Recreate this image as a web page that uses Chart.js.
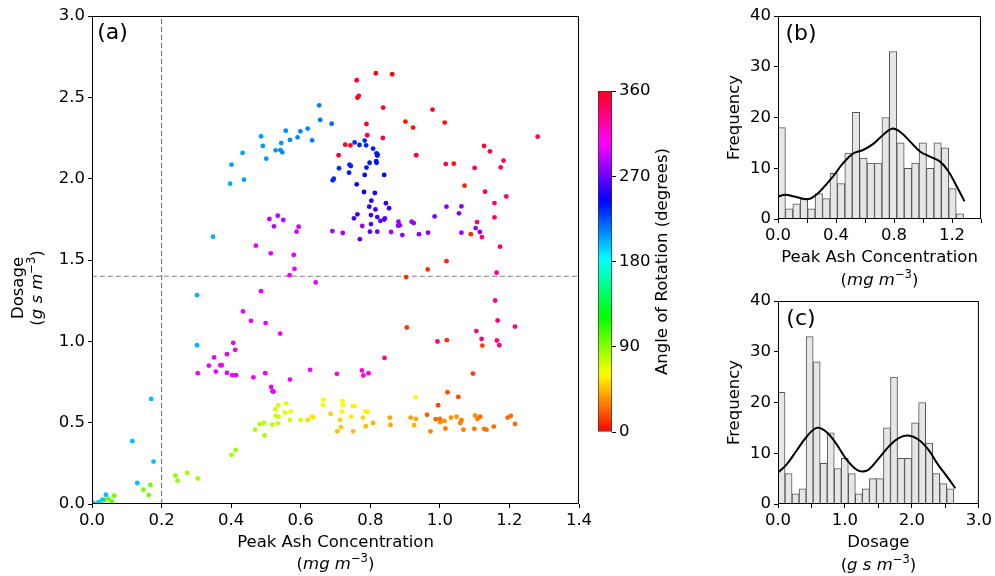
<!DOCTYPE html>
<html>
<head>
<meta charset="utf-8">
<script src="https://cdn.jsdelivr.net/npm/chart.js@4.4.1/dist/chart.umd.min.js"></script>
<style>
  body { margin: 0; background: #fff; }
  #wrap { position: relative; width: 995px; height: 576px; }
  #wrap canvas { position: absolute; left: 0; top: 0; }
</style>
</head>
<body>
<div id="wrap">
  <canvas id="scatterChart" width="995" height="576"></canvas>
  <canvas id="colorBar" width="995" height="576"></canvas>
  <canvas id="ashHist" width="995" height="576"></canvas>
  <canvas id="doseHist" width="995" height="576"></canvas>
</div>
<script>
// peak ash concentration (mg m-3), dosage (g s m-3) and wind rotation angle (deg) per run
var ashPeak = [
  0.761, 0.816, 0.863, 0.763, 0.767, 0.837, 0.979, 1.014, 0.789, 0.901, 0.923, 0.791, 0.836, 0.728, 0.743, 0.709,
  0.932, 1.017, 1.040, 1.127, 1.144, 1.281, 1.183, 1.175, 1.100, 1.071, 1.130, 1.191, 1.157, 1.157, 1.107, 1.089,
  1.121, 1.173, 1.019, 0.965, 0.903, 1.163, 1.019, 1.062, 1.055, 0.985, 1.103, 1.115, 1.062, 0.966, 0.940, 0.919,
  0.925, 0.881, 0.885, 0.880, 0.892, 0.860, 0.653, 0.656, 0.689, 0.620, 0.599, 0.557, 0.591, 0.569, 0.633, 0.486,
  0.491, 0.544, 0.528, 0.542, 0.547, 0.433, 0.501, 0.401, 0.397, 0.437, 0.348, 0.755, 0.769, 0.784, 0.788, 0.808,
  0.818, 0.821, 0.820, 0.817, 0.818, 0.798, 0.740, 0.744, 0.789, 0.710, 0.739, 0.784, 0.840, 0.695, 0.692, 0.761,
  0.782, 0.813, 0.803, 0.845, 0.854, 0.797, 0.815, 0.763, 0.802, 0.753, 0.820, 0.842, 0.840, 0.829, 0.802, 0.777,
  0.799, 0.820, 0.770, 0.510, 0.534, 0.550, 0.523, 0.594, 0.588, 0.691, 0.721, 0.471, 0.514, 0.580, 0.582, 0.568,
  0.643, 0.486, 0.302, 0.434, 0.457, 0.499, 0.541, 0.406, 0.412, 0.351, 0.388, 0.336, 0.369, 0.373, 0.356, 0.304,
  0.388, 0.403, 0.414, 0.464, 0.498, 0.515, 0.522, 0.519, 0.569, 0.627, 0.704, 0.776, 0.780, 0.795, 0.841, 0.993,
  1.105, 1.120, 1.159, 1.166, 1.164, 1.171, 1.216, 0.905, 1.020, 1.122, 1.095, 1.022, 1.053, 0.995, 0.930, 0.302,
  0.665, 0.664, 0.719, 0.721, 0.750, 0.755, 0.718, 0.786, 0.792, 0.745, 0.779, 0.713, 0.686, 0.632, 0.637, 0.620,
  0.600, 0.569, 0.572, 0.558, 0.535, 0.527, 0.555, 0.528, 0.536, 0.534, 0.518, 0.494, 0.482, 0.469, 0.496, 0.716,
  0.705, 0.751, 0.787, 0.808, 0.856, 0.858, 0.916, 0.931, 0.926, 0.963, 0.988, 1.000, 1.001, 1.013, 1.016, 0.973,
  1.032, 1.048, 1.059, 1.062, 1.068, 1.101, 1.108, 1.116, 1.099, 1.127, 1.134, 1.155, 1.195, 1.204, 1.216, 0.413,
  0.401, 0.240, 0.246, 0.274, 0.304, 0.168, 0.148, 0.163, 0.064, 0.047, 0.035, 0.057, 0.025, 0.019, 0.170, 0.116,
  0.177, 0.130, 0.040, 0.030, 0.004, 0.018
];
var dosage = [
  2.605, 2.648, 2.642, 2.498, 2.509, 2.437, 2.425, 2.345, 2.336, 2.351, 2.314, 2.267, 2.250, 2.209, 2.205, 2.144,
  2.144, 2.090, 2.092, 2.201, 2.168, 2.258, 2.111, 2.070, 2.066, 1.957, 1.920, 1.891, 1.850, 1.762, 1.733, 1.659,
  1.641, 1.582, 1.493, 1.442, 1.395, 1.422, 1.828, 1.830, 1.787, 1.768, 1.696, 1.672, 1.668, 1.668, 1.659, 1.735,
  1.727, 1.735, 1.713, 1.711, 1.653, 1.672, 2.451, 2.361, 2.338, 2.308, 2.291, 2.295, 2.254, 2.238, 2.236, 2.260,
  2.201, 2.219, 2.174, 2.176, 2.162, 2.158, 2.123, 2.086, 1.969, 1.994, 1.643, 2.223, 2.207, 2.234, 2.205, 2.185,
  2.156, 2.148, 2.142, 2.107, 2.098, 2.098, 2.086, 2.078, 2.068, 2.064, 2.037, 2.023, 2.023, 2.000, 1.990, 1.965,
  1.918, 1.912, 1.865, 1.849, 1.818, 1.828, 1.811, 1.781, 1.776, 1.756, 1.764, 1.756, 1.749, 1.741, 1.721, 1.709,
  1.674, 1.674, 1.628, 1.752, 1.772, 1.746, 1.707, 1.705, 1.674, 1.678, 1.666, 1.588, 1.541, 1.531, 1.446, 1.407,
  1.362, 1.308, 1.284, 1.184, 1.126, 1.112, 1.048, 0.991, 0.948, 0.901, 0.921, 0.851, 0.853, 0.853, 0.814, 0.804,
  0.806, 0.792, 0.792, 0.779, 0.804, 0.720, 0.691, 0.693, 0.765, 0.825, 0.800, 0.821, 0.790, 0.804, 0.898, 0.999,
  1.063, 1.015, 1.251, 1.128, 1.005, 0.976, 1.091, 1.085, 1.007, 0.974, 0.802, 0.687, 0.658, 0.607, 0.656, 0.976,
  0.642, 0.609, 0.632, 0.607, 0.603, 0.603, 0.568, 0.568, 0.568, 0.537, 0.531, 0.517, 0.554, 0.537, 0.533, 0.517,
  0.517, 0.517, 0.570, 0.619, 0.607, 0.581, 0.562, 0.542, 0.537, 0.496, 0.488, 0.498, 0.492, 0.457, 0.421, 0.472,
  0.447, 0.447, 0.478, 0.498, 0.531, 0.486, 0.531, 0.523, 0.484, 0.548, 0.521, 0.523, 0.503, 0.511, 0.464, 0.447,
  0.531, 0.537, 0.498, 0.515, 0.457, 0.544, 0.523, 0.537, 0.462, 0.462, 0.457, 0.476, 0.531, 0.542, 0.492, 0.332,
  0.302, 0.174, 0.144, 0.191, 0.156, 0.117, 0.088, 0.055, 0.051, 0.033, 0.025, 0.016, 0.016, 0.010, 0.646, 0.386,
  0.261, 0.129, 0.057, 0.027, 0.006, 0.010
];
var rotation = [
  355, 358, 2, 356, 356, 357, 358, 5, 355, 5, 3, 352, 350, 355, 355, 352,
  355, 350, 5, 355, 355, 348, 345, 345, 348, 8, 345, 340, 340, 340, 340, 10,
  340, 335, 10, 12, 12, 330, 275, 275, 278, 275, 280, 280, 280, 278, 278, 280,
  280, 280, 280, 280, 278, 283, 215, 215, 220, 212, 212, 210, 212, 210, 215, 207,
  207, 210, 208, 210, 210, 205, 208, 205, 203, 205, 200, 232, 235, 235, 235, 238,
  240, 240, 240, 240, 240, 238, 235, 235, 238, 232, 237, 240, 240, 235, 235, 245,
  248, 250, 252, 255, 258, 255, 258, 258, 260, 260, 262, 263, 263, 265, 265, 280,
  265, 268, 270, 290, 290, 290, 290, 292, 292, 283, 285, 300, 300, 300, 300, 300,
  300, 300, 200, 300, 300, 300, 300, 300, 300, 300, 300, 300, 300, 300, 300, 300,
  300, 300, 300, 300, 300, 300, 300, 300, 300, 305, 310, 310, 310, 310, 325, 330,
  335, 335, 330, 333, 335, 335, 338, 12, 12, 15, 15, 18, 18, 18, 60, 200,
  65, 65, 62, 62, 60, 60, 58, 58, 58, 57, 52, 50, 50, 55, 55, 52,
  70, 72, 65, 68, 70, 72, 70, 75, 75, 75, 78, 80, 80, 80, 82, 48,
  45, 45, 45, 42, 38, 40, 38, 40, 42, 22, 25, 25, 35, 35, 30, 32,
  35, 35, 30, 30, 30, 35, 30, 25, 28, 28, 28, 25, 25, 25, 25, 85,
  85, 88, 88, 85, 85, 95, 95, 95, 95, 95, 100, 100, 110, 150, 198, 198,
  198, 198, 198, 195, 195, 195
];

// threshold guide lines
var ashThreshold = 0.2;
var doseThreshold = 1.4;

// histogram counts, equal-width bins starting at zero
var ashCounts = [18, 2, 3, 4, 2, 5, 4, 9, 7, 13, 21, 12, 11, 11, 20, 33, 15, 10, 11, 15, 10, 15, 14, 6, 1];
var ashBinWidth = 0.0512;
var doseCounts = [22, 6, 2, 3, 33, 28, 8, 14, 7, 9, 6, 2, 3, 5, 5, 15, 25, 9, 9, 16, 20, 12, 6, 4, 3];
var doseBinWidth = 0.105;

// kernel density curves scaled to counts
var ashKdeX = [0, 0.05, 0.104, 0.196, 0.242, 0.311, 0.380, 0.449, 0.518, 0.587, 0.657, 0.726, 0.786, 0.841, 0.910, 0.979, 1.048, 1.118, 1.175, 1.233, 1.286];
var ashKdeY = [4.4, 4.8, 4.5, 3.9, 4.3, 6.1, 8.4, 11.0, 12.9, 13.6, 14.8, 16.6, 17.8, 17.2, 15.3, 13.3, 12.3, 11.3, 9.4, 6.4, 3.5];
var doseKdeX = [0, 0.123, 0.271, 0.419, 0.577, 0.715, 0.863, 1.011, 1.159, 1.258, 1.357, 1.505, 1.653, 1.801, 1.949, 2.097, 2.245, 2.393, 2.541, 2.649];
var doseKdeY = [6.2, 7.7, 10.4, 13.1, 15.0, 14.3, 12.0, 9.0, 6.9, 6.4, 6.8, 9.0, 11.3, 13.0, 13.5, 12.7, 10.7, 7.7, 5.1, 3.1];

var FONT = "'DejaVu Sans', sans-serif";
var FS = 16.5;

// matplotlib 'hsv' colormap segments
var hsvR = [[0, 1], [0.158730, 1], [0.174603, 0.96875], [0.333333, 0.03125], [0.349206, 0], [0.666667, 0], [0.682540, 0.03125], [0.841270, 0.96875], [0.857143, 1], [1, 1]];
var hsvG = [[0, 0], [0.158730, 0.9375], [0.174603, 1], [0.507937, 1], [0.666667, 0.0625], [0.682540, 0], [1, 0]];
var hsvB = [[0, 0], [0.333333, 0], [0.349206, 0.0625], [0.507937, 1], [0.841270, 1], [0.857143, 0.9375], [1, 0.09375]];

function seg(s, t) {
  for (var i = 1; i < s.length; i++) {
    if (t <= s[i][0]) {
      var f = (t - s[i - 1][0]) / (s[i][0] - s[i - 1][0]);
      return s[i - 1][1] + f * (s[i][1] - s[i - 1][1]);
    }
  }
  return s[s.length - 1][1];
}
function angleColor(deg) {
  var t = Math.min(Math.max(deg / 360, 0), 1);
  return 'rgb(' + Math.round(seg(hsvR, t) * 255) + ',' + Math.round(seg(hsvG, t) * 255) + ',' + Math.round(seg(hsvB, t) * 255) + ')';
}

// text with italic / superscript pieces, centred on (x, y)
function runFont(r) {
  return (r.it ? 'italic ' : '') + (r.sup ? FS * 0.7 : FS) + 'px ' + FONT;
}
function drawRuns(ctx, runs, x, y, rot, size) {
  ctx.save();
  ctx.translate(x, y);
  if (rot) ctx.rotate(rot * Math.PI / 180);
  var total = 0, widths = [];
  runs.forEach(function (r) {
    ctx.font = size ? size + 'px ' + FONT : runFont(r);
    var w = ctx.measureText(r.t).width;
    widths.push(w);
    total += w;
  });
  var cx = -total / 2;
  ctx.fillStyle = '#000';
  ctx.textBaseline = 'middle';
  ctx.textAlign = 'left';
  runs.forEach(function (r, i) {
    ctx.font = size ? size + 'px ' + FONT : runFont(r);
    ctx.fillText(r.t, cx, r.sup ? -FS * 0.38 : 0);
    cx += widths[i];
  });
  ctx.restore();
}
function labels(items) {
  return {
    id: 'labels',
    afterDraw: function (chart) {
      var a = chart.chartArea;
      items.forEach(function (it) {
        var p = it.at(a);
        drawRuns(chart.ctx, it.runs, p[0], p[1], it.rot || 0, it.size);
      });
    }
  };
}
var frame = {
  id: 'frame',
  afterDatasetsDraw: function (chart) {
    var a = chart.chartArea, ctx = chart.ctx;
    ctx.save();
    ctx.strokeStyle = '#000';
    ctx.lineWidth = 1;
    ctx.strokeRect(a.left + 0.5, a.top + 0.5, a.right - a.left - 1, a.bottom - a.top - 1);
    ctx.restore();
  }
};

var mgUnit = [{ t: '(' }, { t: 'mg m', it: true }, { t: '\u22123', sup: true }, { t: ')' }];
var gsUnit = [{ t: '(' }, { t: 'g s m', it: true }, { t: '\u22123', sup: true }, { t: ')' }];

function tickFont() { return { family: FONT, size: FS }; }
function tickGrid() { return { drawOnChartArea: false, drawTicks: true, tickLength: 4, color: '#000', lineWidth: 1 }; }

var base = {
  responsive: false,
  animation: false,
  events: [],
  plugins: { legend: { display: false }, tooltip: { enabled: false } }
};
function opts(extra) { return Object.assign({}, base, extra); }

// (a) scatter of dosage against peak concentration
new Chart(document.getElementById('scatterChart'), {
  type: 'scatter',
  data: {
    datasets: [
      {
        data: ashPeak.map(function (x, i) { return { x: x, y: dosage[i] }; }),
        pointBackgroundColor: rotation.map(angleColor),
        pointRadius: 2.4,
        pointBorderWidth: 0,
        pointHoverRadius: 2.4
      },
      {
        type: 'line',
        data: [{ x: ashThreshold, y: 0 }, { x: ashThreshold, y: 3 }],
        borderColor: '#808080', borderWidth: 1.2, borderDash: [5, 3], pointRadius: 0
      },
      {
        type: 'line',
        data: [{ x: 0, y: doseThreshold }, { x: 1.4, y: doseThreshold }],
        borderColor: '#808080', borderWidth: 1.2, borderDash: [5, 3], pointRadius: 0
      }
    ]
  },
  options: opts({
    layout: { padding: { left: 0, top: 16, right: 416, bottom: 0 } },
    scales: {
      x: {
        type: 'linear', min: 0, max: 1.4,
        afterFit: function (s) { s.height = 72; },
        ticks: { stepSize: 0.2, autoSkip: false, maxRotation: 0, color: '#000', font: tickFont(), callback: function (v) { return v.toFixed(1); } },
        grid: tickGrid(), border: { display: false }
      },
      y: {
        min: 0, max: 3,
        afterFit: function (s) { s.width = 92; },
        ticks: { stepSize: 0.5, color: '#000', font: tickFont(), callback: function (v) { return v.toFixed(1); } },
        grid: tickGrid(), border: { display: false }
      }
    }
  }),
  plugins: [frame, labels([
    { at: function (a) { return [(a.left + a.right) / 2, a.bottom + 39]; }, runs: [{ t: 'Peak Ash Concentration' }] },
    { at: function (a) { return [(a.left + a.right) / 2, a.bottom + 61]; }, runs: mgUnit },
    { at: function (a) { return [a.left - 73, 288]; }, rot: -90, runs: [{ t: 'Dosage' }] },
    { at: function (a) { return [a.left - 54, 288]; }, rot: -90, runs: gsUnit },
    { at: function (a) { return [a.left + 20.5, a.top + 17]; }, runs: [{ t: '(a)' }], size: 22 }
  ])]
});

// colour scale for rotation angle
new Chart(document.getElementById('colorBar'), {
  type: 'bar',
  data: {
    labels: [''],
    datasets: [{
      data: [[0, 360]],
      backgroundColor: function (c) {
        var a = c.chart.chartArea;
        if (!a) return '#fff';
        var g = c.chart.ctx.createLinearGradient(0, a.bottom, 0, a.top);
        for (var i = 0; i <= 72; i++) g.addColorStop(i / 72, angleColor(i * 5));
        return g;
      },
      borderColor: '#333', borderWidth: 1, borderSkipped: false,
      barPercentage: 1, categoryPercentage: 1
    }]
  },
  options: opts({
    layout: { padding: { left: 598, top: 91, right: 323, bottom: 144 } },
    scales: {
      x: { display: false },
      y: {
        position: 'right', min: 0, max: 360,
        afterFit: function (s) { s.width = 60; },
        ticks: { stepSize: 90, color: '#000', font: tickFont() },
        grid: tickGrid(), border: { display: false }
      }
    }
  }),
  plugins: [labels([
    { at: function (a) { return [a.right + 51, (a.top + a.bottom) / 2]; }, rot: -90, runs: [{ t: 'Angle of Rotation (degrees)' }] }
  ])]
});

function histogram(id, counts, binWidth, kx, ky, box, xMax, xStep, labelEvery, xTitle, unit, tag) {
  return new Chart(document.getElementById(id), {
    type: 'bar',
    data: {
      datasets: [
        {
          type: 'line',
          data: kx.map(function (x, i) { return { x: x, y: ky[i] }; }),
          borderColor: '#000', borderWidth: 2, pointRadius: 0, tension: 0.4, order: 0
        },
        {
          data: counts.map(function (c, i) { return { x: (i + 0.5) * binWidth, y: c }; }),
          backgroundColor: '#e6e6e6', borderColor: '#555', borderWidth: 1,
          barPercentage: 1, categoryPercentage: 1, order: 1
        }
      ]
    },
    options: opts({
      layout: { padding: box },
      scales: {
        x: {
          type: 'linear', min: 0, max: xMax, offset: false,
          afterFit: function (s) { s.height = 40; },
          ticks: {
            stepSize: xStep, autoSkip: false, maxRotation: 0, color: '#000', font: tickFont(),
            callback: function (v) {
              var k = v / labelEvery;
              return Math.abs(k - Math.round(k)) < 1e-6 ? v.toFixed(1) : '';
            }
          },
          grid: Object.assign(tickGrid(), { offset: false }), border: { display: false }
        },
        y: {
          min: 0, max: 40,
          afterFit: function (s) { s.width = 60; },
          ticks: { stepSize: 10, color: '#000', font: tickFont() },
          grid: tickGrid(), border: { display: false }
        }
      }
    }),
    plugins: [frame, labels([
      { at: function (a) { return [(a.left + a.right) / 2, a.bottom + 39]; }, runs: [{ t: xTitle }] },
      { at: function (a) { return [(a.left + a.right) / 2, a.bottom + 62]; }, runs: unit },
      { at: function (a) { return [a.left - 43, (a.top + a.bottom) / 2]; }, rot: -90, runs: [{ t: 'Frequency' }] },
      { at: function (a) { return [a.left + 23, a.top + 18]; }, runs: [{ t: tag }], size: 22 }
    ])]
  });
}

// (b) distribution of peak ash concentration
histogram('ashHist', ashCounts, ashBinWidth, ashKdeX, ashKdeY,
  { left: 718, top: 16, right: 14, bottom: 317 }, 1.4, 0.2, 0.4,
  'Peak Ash Concentration', mgUnit, '(b)');

// (c) distribution of dosage
histogram('doseHist', doseCounts, doseBinWidth, doseKdeX, doseKdeY,
  { left: 718, top: 301, right: 14, bottom: 32 }, 3, 0.5, 1,
  'Dosage', gsUnit, '(c)');
</script>
</body>
</html>
